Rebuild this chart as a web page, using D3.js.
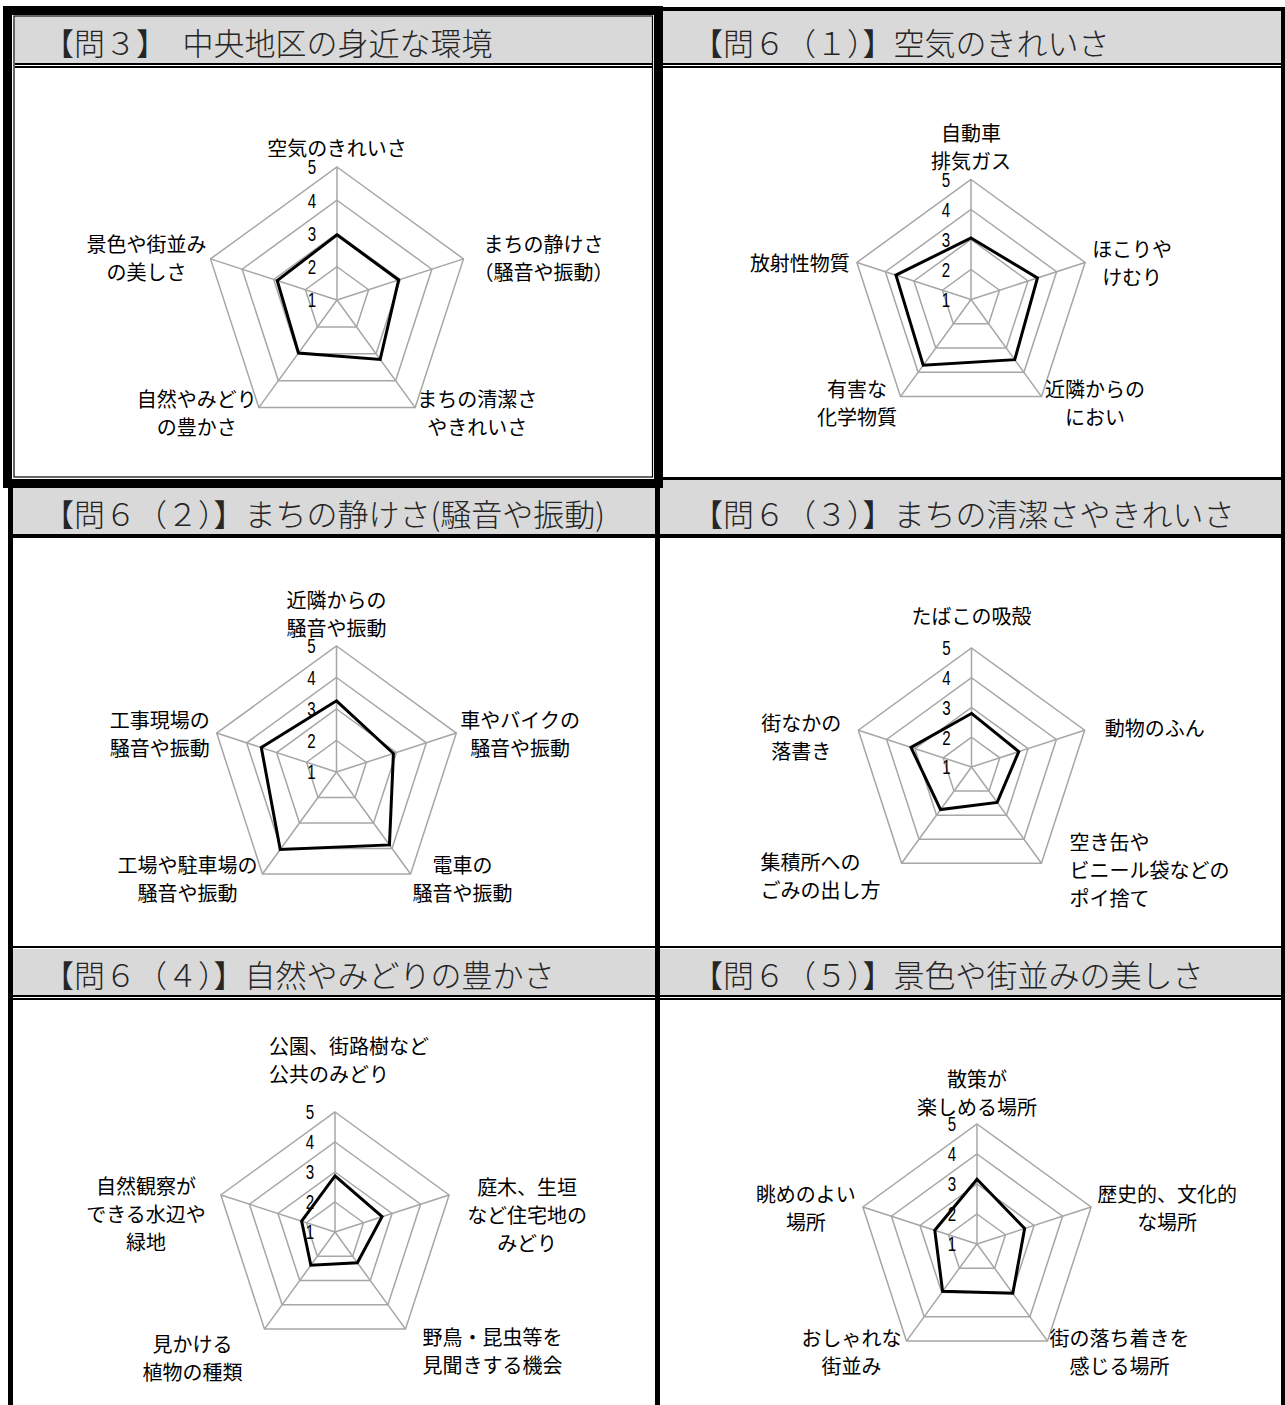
<!DOCTYPE html>
<html>
<head>
<meta charset="utf-8">
<title>中央地区の身近な環境</title>
<script src="https://d3js.org/d3.v7.min.js"></script>
<style>
  body { margin: 0; background: #fff; }
  svg text { font-family: "Noto Sans CJK JP", sans-serif; }
</style>
</head>
<body>
<div id="container"></div>
<script>
    //---------------------------DATA----------------------------//
    const titles = [
        "【問３】　中央地区の身近な環境",
        "【問６（１）】空気のきれいさ",
        "【問６（２）】まちの静けさ(騒音や振動)",
        "【問６（３）】まちの清潔さやきれいさ",
        "【問６（４）】自然やみどりの豊かさ",
        "【問６（５）】景色や街並みの美しさ"
    ];
    const ticks = [1, 2, 3, 4, 5];

    const axes0 = ["空気のきれいさ", "まちの静けさ\n（騒音や振動）", "まちの清潔さ\nやきれいさ", "自然やみどり\nの豊かさ", "景色や街並み\nの美しさ"];
    const values0 = [2.96, 2.95, 3.21, 2.97, 2.89];

    const axes1 = ["自動車\n排気ガス", "ほこりや\nけむり", "近隣からの\nにおい", "有害な\n化学物質", "放射性物質"];
    const values1 = [3.05, 3.33, 3.48, 3.71, 3.63];

    const axes2 = ["近隣からの\n騒音や振動", "車やバイクの\n騒音や振動", "電車の\n騒音や振動", "工場や駐車場の\n騒音や振動", "工事現場の\n騒音や振動"];
    const values2 = [3.26, 2.90, 3.86, 4.04, 3.51];

    const axes3 = ["たばこの吸殻", "動物のふん", "空き缶や\nビニール袋などの\nポイ捨て", "集積所への\nごみの出し方", "街なかの\n落書き"];
    const values3 = [2.80, 2.67, 2.47, 2.77, 3.14];

    const axes4 = ["公園、街路樹など\n公共のみどり", "庭木、生垣\nなど住宅地の\nみどり", "野鳥・昆虫等を\n見聞きする機会", "見かける\n植物の種類", "自然観察が\nできる水辺や\n緑地"];
    const values4 = [2.87, 2.65, 2.27, 2.37, 2.17];

    const axes5 = ["散策が\n楽しめる場所", "歴史的、文化的\nな場所", "街の落ち着きを\n感じる場所", "おしゃれな\n街並み", "眺めのよい\n場所"];
    const values5 = [3.16, 2.67, 3.03, 2.95, 2.48];

    //--------------------------LAYOUT---------------------------//
    // gap/dy per axis: [top, right, bottom-right, bottom-left, left]
    const charts = [
        {axes: axes0, values: values0, cx: 337,   cy: 300,    r: 133, gap: [20, 10, 2, 2, 4],    dy: [0, -1, 5, 5, -1]},
        {axes: axes1, values: values1, cx: 971,   cy: 299.5,  r: 120, gap: [19, 7, 3.5, 3.5, 7], dy: [0, 0, 6, 6, 0]},
        {axes: axes2, values: values2, cx: 336.5, cy: 772,    r: 126, gap: [19, 4, 2, 5, 7],     dy: [0, 0, 5, 5, 0]},
        {axes: axes3, values: values3, cx: 971.5, cy: 767,    r: 119, gap: [33, 20, 28, 21, 17], dy: [0, -3, 6, 12, 6],
            align: ["middle", "middle", "start", "start", "middle"]},
        {axes: axes4, values: values4, cx: 335,   cy: 1232,   r: 120, gap: [39, 18, 17, 22, 15], dy: [0, 20, 21, 28, 19],
            align: ["start", "middle", "middle", "middle", "middle"], topDx: -66},
        {axes: axes5, values: values5, cx: 977,   cy: 1244,   r: 120, gap: [18, 6, 2, 5, 7],     dy: [0, 1, 10, 10, 1]}
    ];
    const headers = [
        {x: 43, y: 41}, {x: 692, y: 41},
        {x: 43, y: 512}, {x: 692, y: 512},
        {x: 43, y: 973}, {x: 692, y: 973}
    ];

    const width = 1285, height = 1405;
    const svg = d3.select("#container").append("svg")
        .attr("width", width)
        .attr("height", height);

    //--------------------------FRAMES---------------------------//
    const gray = "#d9d9d9";
    const fr = svg.append("g");
    const box = (x, y, w, h, fill) => fr.append("rect").attr("x", x).attr("y", y)
        .attr("width", w).attr("height", h).attr("fill", fill);

    // header backgrounds
    box(15, 17, 637, 46, gray);
    box(663, 11, 618, 52, gray);
    box(13, 488, 642, 46, gray);
    box(660, 480, 621, 54, gray);
    box(13, 949, 642, 46, gray);
    box(660, 949, 621, 46, gray);

    // header lines
    box(15, 63, 637, 2, "#000"); box(15, 66, 637, 2, "#000");
    box(663, 63, 618, 2, "#000"); box(663, 66, 618, 2, "#000");
    box(660, 7, 625, 4, "#000");
    box(660, 477, 621, 3, "#000");
    box(8, 534, 1277, 4, "#000");
    box(8, 946, 1277, 2, "#000");
    box(8, 995, 1277, 2, "#000"); box(8, 998, 1277, 2, "#000");

    // verticals
    box(8, 480, 5, 925, "#000");
    box(655, 480, 5, 925, "#000");
    box(1281, 7, 4, 1398, "#000");

    // highlighted first panel
    fr.append("rect").attr("x", 7.5).attr("y", 10.5).attr("width", 651).attr("height", 473)
        .attr("fill", "none").attr("stroke", "#000").attr("stroke-width", 9);
    fr.append("rect").attr("x", 14).attr("y", 16).attr("width", 638.5).attr("height", 461)
        .attr("fill", "none").attr("stroke", "#000").attr("stroke-width", 1.2);

    //--------------------------TITLES---------------------------//
    svg.selectAll("text.title")
        .data(titles)
        .enter()
        .append("text")
        .attr("class", "title")
        .attr("x", (d, i) => headers[i].x)
        .attr("y", (d, i) => headers[i].y)
        .attr("dominant-baseline", "central")
        .attr("font-size", 31)
        .attr("font-weight", 300)
        .attr("fill", "#262626")
        .text(d => d);

    //--------------------------RADARS---------------------------//
    const n = 5;
    const lh = 28;

    charts.forEach(function(c) {
        const g = svg.append("g").attr("transform", `translate(${c.cx},${c.cy})`);
        const rScale = d3.scaleLinear().domain([1, 5]).range([0, c.r]);
        const ang = i => i * 2 * Math.PI / n;
        const radial = d3.lineRadial()
            .angle((d, i) => ang(i))
            .radius(d => rScale(d))
            .curve(d3.curveLinearClosed);
        const pt = (i, v) => [rScale(v) * Math.sin(ang(i)), -rScale(v) * Math.cos(ang(i))];

        // grid rings
        g.selectAll("path.ring")
            .data(ticks.slice(1))
            .enter()
            .append("path")
            .attr("class", "ring")
            .attr("d", t => radial(d3.range(n).map(() => t)))
            .attr("fill", "none")
            .attr("stroke", "#a6a6a6")
            .attr("stroke-width", 1.5);

        // spokes
        g.selectAll("line.spoke")
            .data(d3.range(n))
            .enter()
            .append("line")
            .attr("x1", 0).attr("y1", 0)
            .attr("x2", i => pt(i, 5)[0])
            .attr("y2", i => pt(i, 5)[1])
            .attr("stroke", "#a6a6a6")
            .attr("stroke-width", 1.5);

        // tick labels (narrow digits)
        g.selectAll("text.tick")
            .data(ticks)
            .enter()
            .append("text")
            .attr("transform", t => `translate(-25,${-rScale(t)}) scale(0.72,1)`)
            .attr("text-anchor", "middle")
            .attr("dominant-baseline", "central")
            .attr("font-size", 21)
            .style("font-family", '"Liberation Sans", Arial, sans-serif')
            .text(t => t);

        // data line
        g.append("path")
            .attr("d", radial(c.values))
            .attr("fill", "none")
            .attr("stroke", "#000")
            .attr("stroke-width", 3)
            .attr("stroke-linejoin", "miter");

        // axis labels
        c.axes.forEach(function(label, i) {
            const lines = label.split("\n");
            const align = c.align ? c.align[i] : "middle";
            const v = pt(i, 5);
            const t = g.append("g");
            const txt = t.selectAll("text")
                .data(lines)
                .enter()
                .append("text")
                .attr("font-size", 20)
                .attr("fill", "#000")
                .attr("dominant-baseline", "central")
                .attr("text-anchor", align)
                .text(d => d);
            const w = d3.max(txt.nodes(), nd => nd.getComputedTextLength());
            if (i === 0) {
                const last = v[1] - c.gap[0];
                const x0 = (c.topDx || 0);
                txt.attr("x", x0)
                    .attr("y", (d, k) => last - (lines.length - 1 - k) * lh);
            } else {
                const side = v[0] > 0 ? 1 : -1;
                const by = v[1] + c.dy[i];
                let x;
                if (align === "start") {
                    x = side > 0 ? v[0] + c.gap[i] : v[0] - c.gap[i] - w;
                } else {
                    x = v[0] + side * (c.gap[i] + w / 2);
                }
                txt.attr("x", x)
                    .attr("y", (d, k) => by + (k - (lines.length - 1) / 2) * lh);
            }
        });
    });
</script>
</body>
</html>
